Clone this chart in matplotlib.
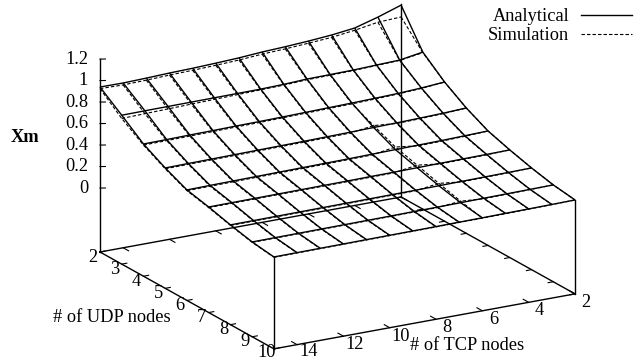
import matplotlib

matplotlib.use("Agg")
import matplotlib.pyplot as plt
import numpy as np
from matplotlib.lines import Line2D
from mpl_toolkits.mplot3d import proj3d

plt.rcParams["font.family"] = ["Liberation Serif", "DejaVu Serif"]

udp_nodes = [2, 3, 4, 5, 6, 7, 8, 9, 10]
tcp_nodes = [15, 14, 13, 12, 11, 10, 9, 8, 7, 6, 5, 4, 3, 2]

# one row per UDP count, left to right is TCP 15 -> 2
analytical = [
    [0.940, 0.938, 0.944, 0.952, 0.957, 0.965, 0.975, 0.990, 1.000, 1.013, 1.030, 1.056, 1.118, 1.190],
    [0.790, 0.792, 0.793, 0.794, 0.795, 0.796, 0.797, 0.802, 0.812, 0.814, 0.817, 0.824, 0.831, 0.866],
    [0.635, 0.637, 0.640, 0.642, 0.645, 0.647, 0.650, 0.654, 0.658, 0.662, 0.667, 0.673, 0.684, 0.700],
    [0.525, 0.527, 0.529, 0.531, 0.533, 0.535, 0.537, 0.540, 0.543, 0.547, 0.551, 0.556, 0.562, 0.571],
    [0.433, 0.436, 0.438, 0.440, 0.442, 0.444, 0.446, 0.448, 0.451, 0.454, 0.457, 0.460, 0.465, 0.470],
    [0.387, 0.388, 0.389, 0.390, 0.391, 0.392, 0.393, 0.395, 0.396, 0.398, 0.400, 0.402, 0.404, 0.406],
    [0.333, 0.334, 0.335, 0.336, 0.337, 0.338, 0.339, 0.340, 0.341, 0.343, 0.345, 0.347, 0.349, 0.351],
    [0.287, 0.288, 0.289, 0.290, 0.291, 0.292, 0.293, 0.295, 0.296, 0.298, 0.300, 0.302, 0.304, 0.306],
    [0.260, 0.261, 0.262, 0.263, 0.264, 0.265, 0.266, 0.267, 0.269, 0.270, 0.272, 0.274, 0.276, 0.279],
]
simulation = [
    [0.925, 0.920, 0.925, 0.933, 0.938, 0.945, 0.955, 0.970, 0.980, 0.993, 1.008, 1.035, 1.070, 1.080],
    [0.760, 0.765, 0.770, 0.775, 0.780, 0.785, 0.790, 0.795, 0.805, 0.808, 0.812, 0.820, 0.828, 0.860],
    [0.625, 0.627, 0.630, 0.633, 0.636, 0.638, 0.642, 0.646, 0.650, 0.654, 0.660, 0.668, 0.680, 0.700],
    [0.517, 0.519, 0.521, 0.523, 0.525, 0.527, 0.529, 0.532, 0.535, 0.565, 0.545, 0.550, 0.558, 0.571],
    [0.426, 0.428, 0.430, 0.432, 0.434, 0.436, 0.438, 0.441, 0.444, 0.478, 0.450, 0.454, 0.460, 0.470],
    [0.381, 0.382, 0.383, 0.384, 0.385, 0.386, 0.387, 0.389, 0.390, 0.422, 0.394, 0.397, 0.400, 0.407],
    [0.328, 0.329, 0.330, 0.331, 0.332, 0.333, 0.334, 0.335, 0.336, 0.365, 0.340, 0.343, 0.346, 0.352],
    [0.283, 0.284, 0.285, 0.286, 0.287, 0.288, 0.289, 0.291, 0.292, 0.312, 0.296, 0.299, 0.302, 0.306],
    [0.257, 0.258, 0.259, 0.260, 0.261, 0.262, 0.263, 0.264, 0.266, 0.267, 0.269, 0.272, 0.275, 0.278],
]

udp_ticks = [2, 3, 4, 5, 6, 7, 8, 9, 10]
tcp_ticks = [2, 4, 6, 8, 10, 12, 14]
z_ticks = [0, 0.2, 0.4, 0.6, 0.8, 1, 1.2]

W, H = 637, 360
Z_BASE = -0.595
FONT = 13.2
DASH = (0, (3.1, 1.85))


def project(ax, u, t, z):
    xs, ys, _ = proj3d.proj_transform(np.array([u], float), np.array([t], float), np.array([z], float), ax.get_proj())
    return ax.transData.transform((xs[0], ys[0]))


def fit_axes(fig, ax):
    # place the 3d box so its base corners land where the original has them
    fig.canvas.draw()
    p0 = project(ax, 2, 15, Z_BASE)
    p1 = project(ax, 10, 2, Z_BASE)
    box = ax.get_window_extent()
    scale = (575 - 100) / (p1[0] - p0[0])
    side = box.width * scale
    left = 100 - (p0[0] - box.x0) * scale
    bottom = (H - 252) - (p0[1] - box.y0) * scale
    ax.set_position([left / W, bottom / H, side / W, side / H])
    fig.canvas.draw()


def label(fig, ax, u, t, z, text, dx, dy, ha="center"):
    # tick label at a fixed pixel offset from its 3d tick position
    x, y = project(ax, u, t, z)
    fig.text((x + dx) / W, (y + dy) / H, text, fontsize=FONT, ha=ha, va="center")


def main():
    fig = plt.figure(figsize=(W / 100, H / 100), dpi=100)
    ax = fig.add_axes([0, 0, H / W, 1], projection="3d", proj_type="ortho")
    ax.set_axis_off()
    ax.patch.set_alpha(0)
    ax.view_init(elev=18.6, azim=-29.8)
    ax.set_box_aspect((350, 347, 203.6))
    ax.set_xlim(2, 10, view_margin=0)
    ax.set_ylim(15, 2, view_margin=0)
    ax.set_zlim(Z_BASE, 1.2, view_margin=0)

    tt, uu = np.meshgrid(tcp_nodes, udp_nodes)
    ax.plot_wireframe(uu, tt, np.array(analytical), rstride=1, cstride=1, color="black", linewidth=1.0)
    ax.plot_wireframe(
        uu, tt, np.array(simulation), rstride=1, cstride=1, color="black", linewidth=0.8, linestyle=DASH
    )

    frame = dict(color="black", linewidth=1.0)
    ax.plot([2, 10, 10, 2, 2], [15, 15, 2, 2, 15], [Z_BASE] * 5, **frame)
    ax.plot([2, 2], [15, 15], [Z_BASE, 1.2], **frame)
    ax.plot([2, 2], [2, 2], [Z_BASE, 1.2], **frame)
    ax.plot([10, 10], [15, 15], [Z_BASE, analytical[-1][0]], **frame)
    ax.plot([10, 10], [2, 2], [Z_BASE, analytical[-1][-1]], **frame)

    tick = dict(color="black", linewidth=0.8)
    for u in udp_ticks:
        ax.plot([u, u], [15, 14.78], [Z_BASE, Z_BASE], **tick)
        ax.plot([u, u], [2, 2.22], [Z_BASE, Z_BASE], **tick)
    for t in tcp_ticks:
        ax.plot([2, 2.25], [t, t], [Z_BASE, Z_BASE], **tick)
        ax.plot([10, 9.75], [t, t], [Z_BASE, Z_BASE], **tick)
    for z in z_ticks:
        ax.plot([2, 2.25], [15, 15], [z, z + 0.0285], **tick)

    fit_axes(fig, ax)

    # the lowest two labels sit a little higher so they stay inside the picture
    for u in udp_ticks:
        label(fig, ax, u, 15, Z_BASE, str(u), -7, -3.5 if u == 10 else -5)
    for t in tcp_ticks:
        label(fig, ax, 10, t, Z_BASE, str(t), 11, -7 if t == 14 else -8.5)
    for z in z_ticks:
        label(fig, ax, 2, 15, z, f"{z:g}", -12, 0, ha="right")

    fig.text(111.5 / W, 1 - 317 / H, "# of UDP nodes", fontsize=FONT, ha="center", va="center")
    fig.text(467.5 / W, 1 - 346 / H, "# of TCP nodes", fontsize=FONT, ha="center", va="center")
    fig.text(25 / W, 1 - 138 / H, "Xm", fontsize=FONT, fontweight="bold", ha="center", va="center")

    handles = [
        Line2D([], [], color="black", linewidth=1.0),
        Line2D([], [], color="black", linewidth=0.8, linestyle=DASH),
    ]
    fig.legend(
        handles, ["Analytical", "Simulation"], loc="upper right", bbox_to_anchor=(632 / W, 352 / H),
        frameon=False, markerfirst=False, fontsize=FONT, handlelength=2.78, handletextpad=0.65,
        labelspacing=0.12, borderpad=0, borderaxespad=0,
    )

    fig.savefig("out.png", dpi=100)
    plt.close(fig)


if __name__ == "__main__":
    main()
